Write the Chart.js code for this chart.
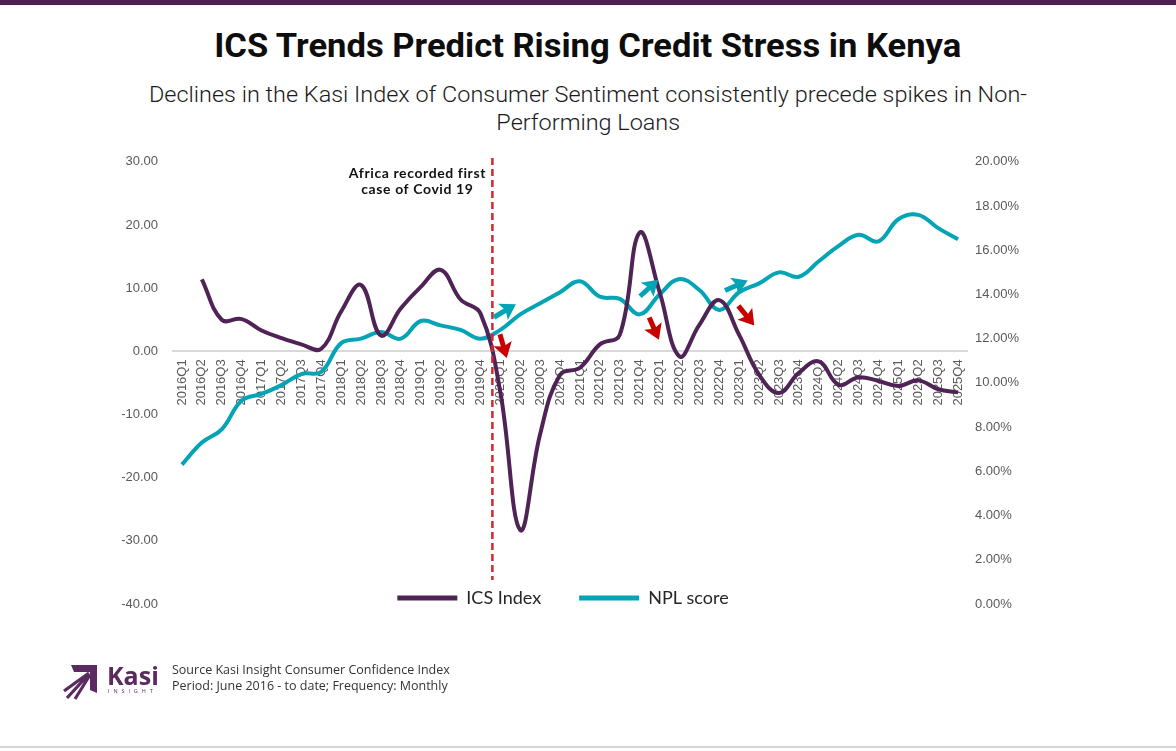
<!DOCTYPE html>
<html>
<head>
<meta charset="utf-8">
<title>ICS Trends Predict Rising Credit Stress in Kenya</title>
<script src="https://cdn.jsdelivr.net/npm/chart.js@4.4.1/dist/chart.umd.min.js"></script>
<style>
  body { margin: 0; background: #fff; }
  #page { position: relative; width: 1176px; height: 751px; overflow: hidden; background: #fff; }
  #topbar { position: absolute; left: 0; top: 0; width: 1176px; height: 5px; background: #4d1f52; }
  .line { position: absolute; left: 0; width: 1176px; text-align: center; white-space: nowrap; }
  .line span { display: inline-block; transform-origin: 50% 50%; }
  #title { top: 26px; font: 700 33px/40px Roboto, sans-serif; color: #0d0d0d; }
  #sub1 { top: 81px; font: 300 22px/28px Roboto, sans-serif; color: #1a1a1a; }
  #sub2 { top: 109px; font: 300 22px/28px Roboto, sans-serif; color: #1a1a1a; }
  #chartBox { position: absolute; left: 0; top: 140px; width: 1176px; height: 530px; }
  #kasi { position: absolute; left: 107px; top: 660px; font: 700 25px/30px "Open Sans", sans-serif; color: #5a2a61; }
  #insight { position: absolute; left: 108px; top: 688px; font: 400 5.5px/7px "Open Sans", sans-serif; letter-spacing: 3.9px; color: #5a2a61; }
  #source { position: absolute; left: 172px; top: 662px; font: 400 12.5px/16px "Open Sans", sans-serif; color: #333; }
  #bottomline { position: absolute; left: 0; top: 746px; width: 1176px; height: 2px; background: #d4d4d4; }
</style>
</head>
<body>
<div id="page">
  <div id="topbar"></div>
  <div id="title" class="line"><span>ICS Trends Predict Rising Credit Stress in Kenya</span></div>
  <div id="sub1" class="line"><span>Declines in the Kasi Index of Consumer Sentiment consistently precede spikes in Non-</span></div>
  <div id="sub2" class="line"><span>Performing Loans</span></div>
  <div id="chartBox"><canvas id="chart" width="1176" height="530"></canvas></div>
  <svg width="44" height="40" viewBox="0 0 44 40" style="position:absolute;left:60px;top:661px">
    <polygon points="11,4 37,4 37,32 30,29 30,11 14,11" fill="#5a2a61"/>
    <path d="M29 12 L4 30 M29 13 L7 37 M30 14 L15 38" stroke="#5a2a61" stroke-width="3.2" fill="none"/>
  </svg>
  <div id="kasi">Kasi</div>
  <div id="insight">INSIGHT</div>
  <div id="source">Source Kasi Insight Consumer Confidence Index<br>Period: June 2016 - to date; Frequency: Monthly</div>
  <div id="bottomline"></div>
</div>
<script>
// quarters on the x axis
const quarters = ['2016Q1','2016Q2','2016Q3','2016Q4','2017Q1','2017Q2','2017Q3','2017Q4',
  '2018Q1','2018Q2','2018Q3','2018Q4','2019Q1','2019Q2','2019Q3','2019Q4',
  '2020Q1','2020Q2','2020Q3','2020Q4','2021Q1','2021Q2','2021Q3','2021Q4',
  '2022Q1','2022Q2','2022Q3','2022Q4','2023Q1','2023Q2','2023Q3','2023Q4',
  '2024Q1','2024Q2','2024Q3','2024Q4','2025Q1','2025Q2','2025Q3','2025Q4'];

// ICS index (left axis)
const icsIndex = [null, 11.4, 5.0, 5.1, 3.3, 2.1, 1.1, 0.4, 6.3, 10.5,
  2.5, 6.8, 10.2, 12.9, 8.2, 6.0, -6.5, -28.3, -13.1, -3.7,
  -2.6, 1.1, 2.6, 18.8, 9.4, -0.8, 4.2, 8.1, 2.6, -3.7,
  -6.6, -3.4, -1.6, -5.3, -4.1, -4.7, -5.5, -4.6, -6.0, -6.5];

// NPL score in % (right axis)
const nplScore = [6.3, 7.3, 7.9, 9.2, 9.5, 9.9, 10.4, 10.5, 11.8, 12.0,
  12.3, 12.0, 12.8, 12.6, 12.4, 12.0, 12.4, 13.1, 13.6, 14.1,
  14.6, 13.9, 13.8, 13.1, 14.0, 14.7, 14.2, 13.3, 14.1, 14.5,
  15.0, 14.8, 15.5, 16.2, 16.7, 16.4, 17.4, 17.6, 17.0, 16.5];

// covid marker (x as category position, y in ICS units)
const covidAt = 15.6;
const covidTop = 30.6;
const covidBottom = -36.2;
const covidNote = ['Africa recorded first', 'case of Covid 19'];

// arrows [x0, y0, x1, y1]: teal ones in NPL %, red ones in ICS units
const nplArrows = [[15.68, 12.97, 16.78, 13.56], [23.02, 13.92, 23.93, 14.67], [27.29, 14.18, 28.43, 14.63]];
const icsArrows = [[15.98, 2.7, 16.32, -1.05], [23.48, 5.35, 23.97, 1.84], [27.96, 7.2, 28.76, 4.1]];

const purple = '#4f2356';
const teal = '#03a4b5';

/* fit the condensed heading lines */
function fitLine(id, width, k) {
  const s = document.querySelector('#' + id + ' span');
  if (!k) k = width / s.getBoundingClientRect().width;
  s.style.transform = 'scaleX(' + k + ')';
  return k;
}
fitLine('title', 747);
const subK = fitLine('sub1', 878);
fitLine('sub2', 0, subK);

function drawArrow(ctx, x0, y0, x1, y1, color) {
  const a = Math.atan2(y1 - y0, x1 - x0);
  const c = Math.cos(a), s = Math.sin(a);
  const head = 15, half = 9.5;
  const bx = x1 - head * c, by = y1 - head * s;
  ctx.strokeStyle = color;
  ctx.lineWidth = 5;
  ctx.beginPath();
  ctx.moveTo(x0, y0);
  ctx.lineTo(bx + 4 * c, by + 4 * s);
  ctx.stroke();
  ctx.fillStyle = color;
  ctx.beginPath();
  ctx.moveTo(x1, y1);
  ctx.lineTo(bx + half * s, by - half * c);
  ctx.lineTo(bx + 3 * c, by + 3 * s);
  ctx.lineTo(bx - half * s, by + half * c);
  ctx.closePath();
  ctx.fill();
}

const covidMark = {
  id: 'covidMark',
  afterDatasetsDraw(chart) {
    const { ctx, scales: { x, y, y1 } } = chart;
    const px = x.getPixelForValue(covidAt);
    const top = y.getPixelForValue(covidTop);
    ctx.save();
    ctx.strokeStyle = '#d7262b';
    ctx.lineWidth = 2.5;
    ctx.setLineDash([7, 4]);
    ctx.beginPath();
    ctx.moveTo(px, top);
    ctx.lineTo(px, y.getPixelForValue(covidBottom));
    ctx.stroke();
    ctx.setLineDash([]);
    ctx.font = 'bold 14px Lato';
    ctx.letterSpacing = '0.6px';
    ctx.fillStyle = '#111';
    ctx.textAlign = 'center';
    ctx.textBaseline = 'middle';
    covidNote.forEach((t, i) => ctx.fillText(t, px - 75, top + 15 + i * 16));
    ctx.letterSpacing = '0px';
    nplArrows.forEach(a => drawArrow(ctx, x.getPixelForValue(a[0]), y1.getPixelForValue(a[1]),
      x.getPixelForValue(a[2]), y1.getPixelForValue(a[3]), teal));
    icsArrows.forEach(a => drawArrow(ctx, x.getPixelForValue(a[0]), y.getPixelForValue(a[1]),
      x.getPixelForValue(a[2]), y.getPixelForValue(a[3]), '#c80000'));
    ctx.restore();
  }
};

// pull the legend up into the bottom of the plot, like the original
const legendNudge = {
  id: 'legendNudge',
  afterLayout(chart) {
    const lg = chart.legend;
    const pad = lg.options.labels.padding;
    const h = lg.height;
    lg.top = chart.chartArea.bottom - 6 - pad - 9;
    lg.bottom = lg.top + h;
    lg.left -= 7;
    lg.right -= 7;
  }
};

new Chart(document.getElementById('chart'), {
  type: 'line',
  data: {
    labels: quarters,
    datasets: [
      {
        label: 'ICS Index',
        data: icsIndex,
        yAxisID: 'y',
        borderColor: purple,
        backgroundColor: purple,
        borderWidth: 4,
        pointRadius: 0,
        tension: 0.4
      },
      {
        label: 'NPL score',
        data: nplScore,
        yAxisID: 'y1',
        borderColor: teal,
        backgroundColor: teal,
        borderWidth: 4,
        pointRadius: 0,
        tension: 0.4
      }
    ]
  },
  options: {
    responsive: false,
    animation: false,
    layout: { padding: { left: 112, right: 148, top: 19, bottom: 0 } },
    plugins: {
      title: { display: false },
      tooltip: { enabled: false },
      legend: {
        position: 'bottom',
        labels: {
          boxWidth: 60,
          boxHeight: 5,
          padding: 38,
          color: '#262626',
          font: { family: 'Lato', size: 18 },
          generateLabels: chart => Chart.defaults.plugins.legend.labels.generateLabels(chart)
            .map(l => ({ ...l, lineWidth: 0 }))
        }
      }
    },
    scales: {
      x: {
        type: 'category',
        position: { y: 0 },
        offset: true,
        grid: { display: false, drawTicks: false },
        border: { display: false },
        ticks: {
          autoSkip: false,
          minRotation: 90,
          maxRotation: 90,
          padding: 8,
          color: '#595959',
          font: { family: 'Liberation Sans', size: 13 }
        }
      },
      y: {
        position: 'left',
        min: -40,
        max: 30,
        afterFit: s => { s.width = 60; },
        border: { display: false },
        grid: {
          drawTicks: false,
          lineWidth: 2,
          color: c => c.tick && c.tick.value === 0 ? '#d9d9d9' : 'rgba(0,0,0,0)'
        },
        ticks: {
          stepSize: 10,
          padding: 14,
          color: '#595959',
          font: { family: 'Liberation Sans', size: 13 },
          callback: v => v.toFixed(2)
        }
      },
      y1: {
        position: 'right',
        min: 0,
        max: 20,
        afterFit: s => { s.width = 60; },
        border: { display: false },
        grid: { display: false, drawTicks: false },
        ticks: {
          stepSize: 2,
          padding: 7,
          color: '#595959',
          font: { family: 'Liberation Sans', size: 13 },
          callback: v => v.toFixed(2) + '%'
        }
      }
    }
  },
  plugins: [covidMark, legendNudge]
});
</script>
</body>
</html>
